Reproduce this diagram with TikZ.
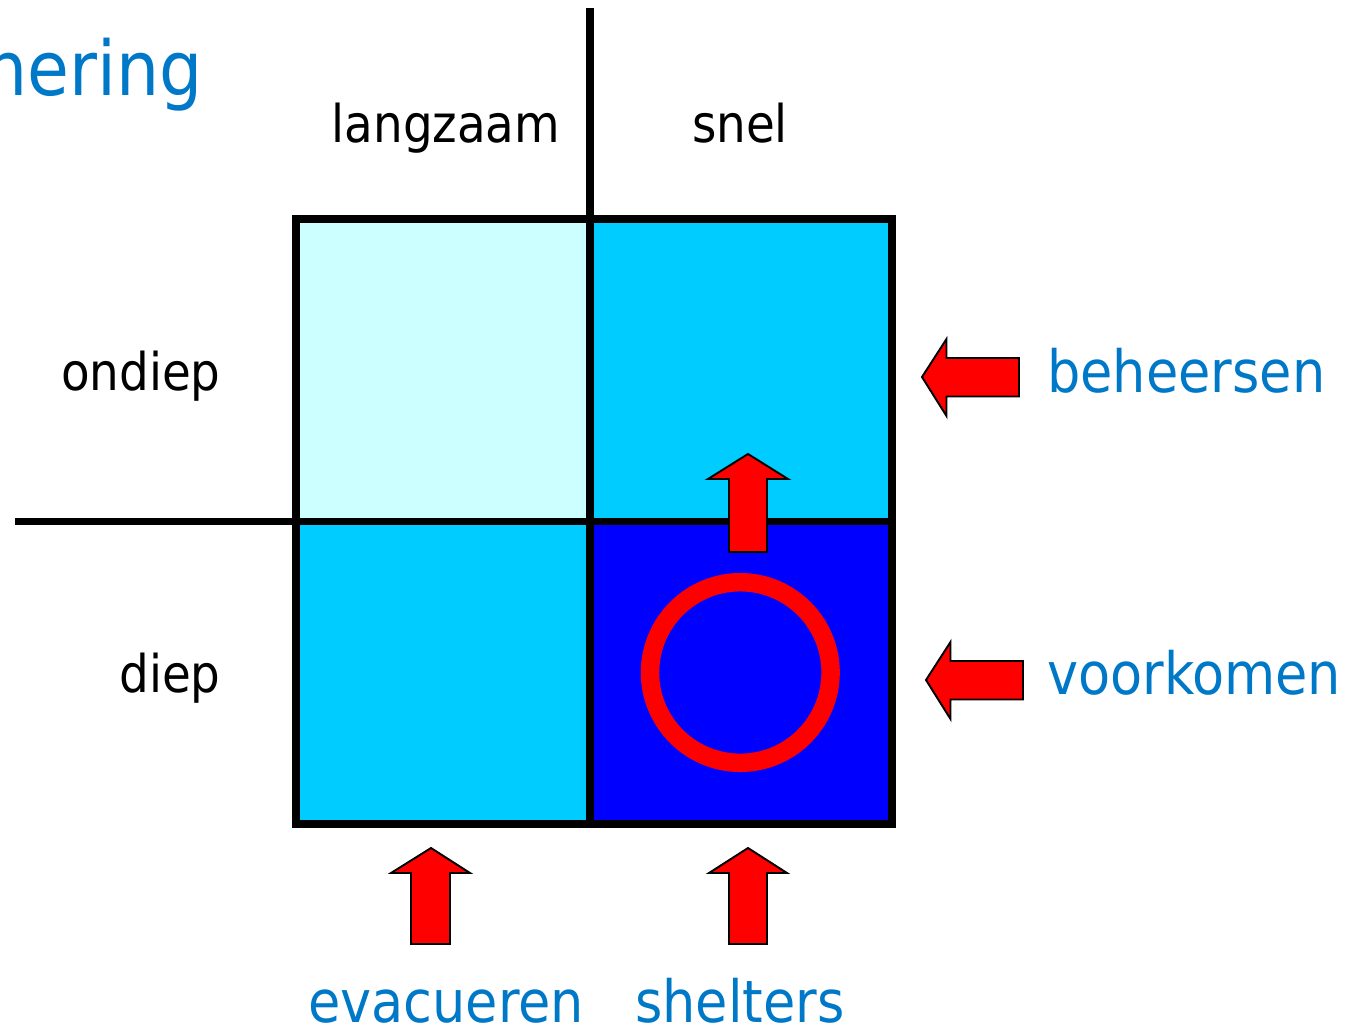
\documentclass[tikz,border=0pt]{standalone}
\usepackage{fontspec}
\setmainfont{DejaVu Sans Condensed}
\definecolor{lightcyan}{RGB}{204,255,255}
\definecolor{midcyan}{RGB}{0,204,255}
\definecolor{deepblue}{RGB}{0,0,255}
\definecolor{labelblue}{RGB}{0,120,200}
\definecolor{arrowred}{RGB}{255,0,0}
\tikzset{
  blacklabel/.style={inner sep=0pt, text=black, font=\fontsize{29.6}{34}\selectfont},
  bluelabel/.style={inner sep=0pt, text=labelblue, font=\fontsize{33.2}{38}\selectfont},
  gridline/.style={line width=4.5pt, draw=black},
  blockarrow/.style={fill=arrowred, draw=black, line width=1.1pt, line join=miter},
}
\begin{document}
\begin{tikzpicture}[x=0.02cm, y=-0.02cm]
\useasboundingbox (0,0) rectangle (1357,1029);
\begin{scope}
\clip (0,0) rectangle (1357,1029);
\node[inner sep=0pt, text=labelblue, font=\fontsize{43}{50}\selectfont, anchor=base east] (title) at (203,95) {nering};
\end{scope}
% cells
\fill[lightcyan] (296,219) rectangle (590,521.5);
\fill[midcyan] (590,219) rectangle (892,521.5);
\fill[midcyan] (296,521.5) rectangle (590,824);
\fill[deepblue] (590,521.5) rectangle (892,824);
% grid and axes
\draw[gridline] (296,219) rectangle (892,824);
\draw[gridline] (590,8) -- (590,824);
\draw[gridline] (15,521.5) -- (892,521.5);
% ring
\draw[arrowred, line width=10.5pt] (740.3,672.5) circle (90.3);
% block arrows
\draw[blockarrow] (748,454) -- (788,479) -- (767,479) -- (767,552) -- (729,552) -- (729,479) -- (708,479) -- cycle;
\draw[blockarrow] (431,848) -- (470,873) -- (450,873) -- (450,944) -- (411,944) -- (411,873) -- (391,873) -- cycle;
\draw[blockarrow] (748,848) -- (787,873) -- (767,873) -- (767,944) -- (729,944) -- (729,873) -- (709,873) -- cycle;
\draw[blockarrow] (922,377) -- (946.5,339) -- (946.5,358) -- (1019,358) -- (1019,396.5) -- (946.5,396.5) -- (946.5,416) -- cycle;
\draw[blockarrow] (926,680) -- (950.5,642) -- (950.5,661) -- (1023,661) -- (1023,699.5) -- (950.5,699.5) -- (950.5,719) -- cycle;
% labels
\node[blacklabel, anchor=base] (langzaam) at (446,142) {langzaam};
\node[blacklabel, anchor=base] (snel) at (740,142) {snel};
\node[blacklabel, anchor=base east] (ondiep) at (221,390) {ondiep};
\node[blacklabel, anchor=base east] (diep) at (221,692) {diep};
\node[bluelabel, anchor=base west] (beheersen) at (1047,392) {beheersen};
\node[bluelabel, anchor=base west] (voorkomen) at (1047,694) {voorkomen};
\node[bluelabel, anchor=base] (evacueren) at (446,1022) {evacueren};
\node[bluelabel, anchor=base] (shelters) at (740,1022) {shelters};
\end{tikzpicture}
\end{document}
